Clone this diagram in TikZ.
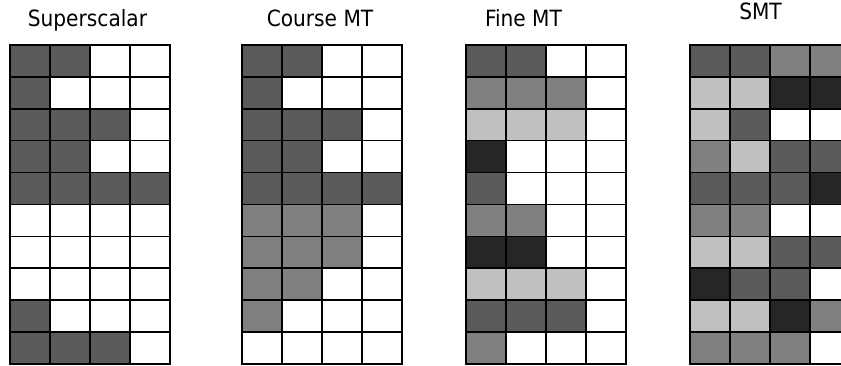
\documentclass[tikz,border=0pt]{standalone}
\usepackage{fontspec}
\setmainfont{DejaVu Sans Condensed}
\definecolor{cD}{HTML}{5A5A5A}
\definecolor{cM}{HTML}{808080}
\definecolor{cL}{HTML}{C0C0C0}
\definecolor{cK}{HTML}{262626}
\definecolor{cW}{HTML}{FFFFFF}
\newcommand\cellgrid[2]{%
  \foreach \r [count=\i from 0] in {#2} {%
    \foreach \c [count=\j from 0] in \r {%
      \fill[fill=c\c] ({#1+40*\j},{45+31.9*\i}) rectangle ++(40,31.9);
    }%
  }%
  \foreach \k in {0,...,4} {\draw[gridline] ({#1+40*\k},45) -- ++(0,319);}
  \foreach \k in {0,...,10} {\draw[gridline] (#1,{45+31.9*\k}) -- ++(160,0);}
  \draw[gridline] (#1,45) rectangle ++(160,319);
}
\begin{document}
\begin{tikzpicture}[x=1pt,y=-1pt,
  title/.style={anchor=base,inner sep=0pt,font=\fontsize{22.4}{25}\selectfont},
  gridline/.style={line width=1.6pt,black}]
\useasboundingbox (0,0) rectangle (841,366);
\begin{scope}
\clip (0,0) rectangle (841,366);
\cellgrid{10}{{D,D,W,W},{D,W,W,W},{D,D,D,W},{D,D,W,W},{D,D,D,D},{W,W,W,W},{W,W,W,W},{W,W,W,W},{D,W,W,W},{D,D,D,W}}
\cellgrid{242}{{D,D,W,W},{D,W,W,W},{D,D,D,W},{D,D,W,W},{D,D,D,D},{M,M,M,W},{M,M,M,W},{M,M,W,W},{M,W,W,W},{W,W,W,W}}
\cellgrid{466}{{D,D,W,W},{M,M,M,W},{L,L,L,W},{K,W,W,W},{D,W,W,W},{M,M,W,W},{K,K,W,W},{L,L,L,W},{D,D,D,W},{M,W,W,W}}
\cellgrid{690}{{D,D,M,M},{L,L,K,K},{L,D,W,W},{M,L,D,D},{D,D,D,K},{M,M,W,W},{L,L,D,D},{K,D,D,W},{L,L,K,M},{M,M,M,W}}
\end{scope}
\node[title] (t1) at (87.5,27) {Superscalar};
\node[title] (t2) at (320,27) {Course MT};
\node[title] (t3) at (523.5,27) {Fine MT};
\node[title] (t4) at (760.5,20) {SMT};
\end{tikzpicture}
\end{document}
